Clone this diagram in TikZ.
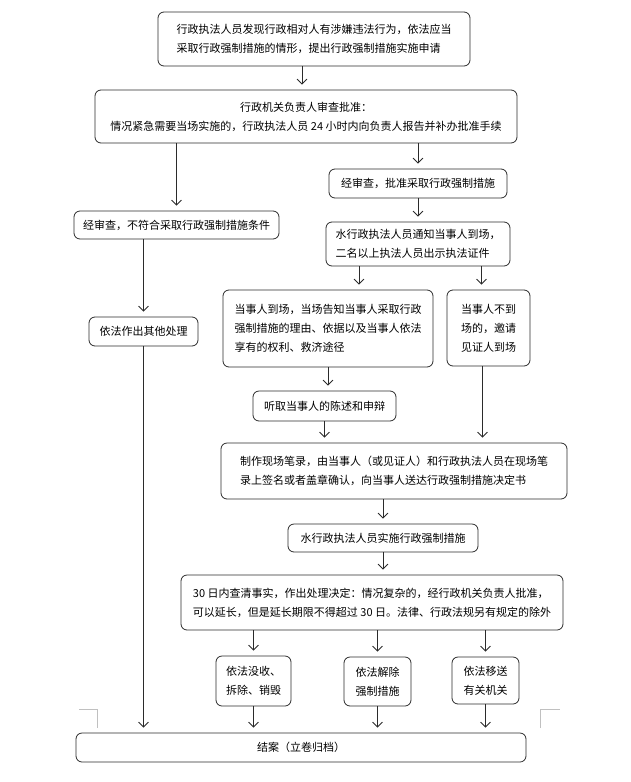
\documentclass[tikz,border=0pt]{standalone}
\usepackage{fontspec}
\usepackage{xcolor}
\usepackage{tikz}
\usetikzlibrary{arrows.meta,positioning}
\newfontfamily\cjk{Noto Sans CJK SC}
\definecolor{FlowLine}{HTML}{2B2B2B}
\definecolor{MarginGray}{HTML}{C0C0C0}

\begin{document}
\begin{tikzpicture}[
  x=1pt, y=-1pt,
  box/.style={draw=FlowLine, rounded corners=6pt, line width=0.8pt, align=left, inner sep=0pt, font=\cjk\fontsize{11}{19}\selectfont},
  midbox/.style={box, align=center},
  arr/.style={-{Straight Barb[length=5pt,width=10pt]}, line width=0.8pt, draw=FlowLine, shorten >=5pt},
  margin/.style={draw=MarginGray, line width=0.6pt}
]
  \useasboundingbox (0,0) rectangle (630,782);

  \node[box, minimum width=312pt, minimum height=54pt] (report) at (314,39) {行政执法人员发现行政相对人有涉嫌违法行为，依法应当\\采取行政强制措施的情形，提出行政强制措施实施申请};
  \node[midbox, minimum width=422pt, minimum height=53pt] (approve) at (306,116.5) {行政机关负责人审查批准：\\情况紧急需要当场实施的，行政执法人员 24 小时内向负责人报告并补办批准手续};

  \node[box, minimum width=205pt, minimum height=28pt] (reject) at (176.5,225) {经审查，不符合采取行政强制措施条件};
  \node[box, minimum width=178pt, minimum height=29pt] (grant) at (418,183.5) {经审查，批准采取行政强制措施};
  \node[box, minimum width=184pt, minimum height=44pt] (notify) at (418,244) {水行政执法人员通知当事人到场，\\二名以上执法人员出示执法证件};

  \node[box, minimum width=109pt, minimum height=29pt] (other) at (143.5,331.5) {依法作出其他处理};
  \node[box, minimum width=210pt, minimum height=77pt] (present) at (328,328.5) {当事人到场，当场告知当事人采取行政\\强制措施的理由、依据以及当事人依法\\享有的权利、救济途径};
  \node[box, minimum width=83pt, minimum height=76pt] (absent) at (488.5,328) {当事人不到\\场的，邀请\\见证人到场};
  \node[box, minimum width=143pt, minimum height=30pt] (hear) at (324.5,406) {听取当事人的陈述和申辩};

  \node[box, minimum width=346pt, minimum height=56pt] (record) at (394,471) {制作现场笔录，由当事人（或见证人）和行政执法人员在现场笔\\录上签名或者盖章确认，向当事人送达行政强制措施决定书};
  \node[box, minimum width=190pt, minimum height=28pt] (enforce) at (383,538) {水行政执法人员实施行政强制措施};
  \node[box, minimum width=382pt, minimum height=55pt] (decide) at (372,602.5) {30 日内查清事实，作出处理决定：情况复杂的，经行政机关负责人批准，\\可以延长，但是延长期限不得超过 30 日。法律、行政法规另有规定的除外};

  \node[box, minimum width=75pt, minimum height=50pt] (confiscate) at (253.5,681) {依法没收、\\拆除、销毁};
  \node[box, minimum width=67pt, minimum height=49pt] (release) at (377.5,681.5) {依法解除\\强制措施};
  \node[box, minimum width=67pt, minimum height=47pt] (transfer) at (485.5,680.5) {依法移送\\有关机关};
  \node[midbox, minimum width=450pt, minimum height=29pt] (close) at (301,747.5) {结案（立卷归档）};

  \draw[arr] ([xshift=-12pt]report.south) -- ([xshift=-12pt]report.south |- approve.north);
  \draw[arr] (reject.north |- approve.south) -- (reject.north);
  \draw[arr] (grant.north |- approve.south) -- (grant.north);
  \draw[arr] (grant.south) -- (notify.north);
  \draw[arr] (other.north |- reject.south) -- (other.north);
  \draw[arr] ([xshift=31pt]present.north |- notify.south) -- ([xshift=31pt]present.north);
  \draw[arr] ([xshift=-7pt]absent.north |- notify.south) -- ([xshift=-7pt]absent.north);
  \draw[arr] (present.south |- present.south) -- (present.south |- hear.north);
  \draw[arr] (hear.south) -- (hear.south |- record.north);
  \draw[arr] ([xshift=-6pt]absent.south) -- ([xshift=-6pt]absent.south |- record.north);
  \draw[arr] (enforce.north |- record.south) -- (enforce.north);
  \draw[arr] (enforce.south) -- (enforce.south |- decide.north);
  \draw[arr] (confiscate.north |- decide.south) -- (confiscate.north);
  \draw[arr] (release.north |- decide.south) -- (release.north);
  \draw[arr] (transfer.north |- decide.south) -- (transfer.north);
  \draw[arr] (confiscate.south) -- (confiscate.south |- close.north);
  \draw[arr] (release.south) -- (release.south |- close.north);
  \draw[arr] (transfer.south) -- (transfer.south |- close.north);
  \draw[arr] (other.south) -- (other.south |- close.north);

  \draw[margin] (79,709) -- (97,709) -- (97,728);
  \draw[margin] (540,728) -- (540,709) -- (560,709);
\end{tikzpicture}
\end{document}
